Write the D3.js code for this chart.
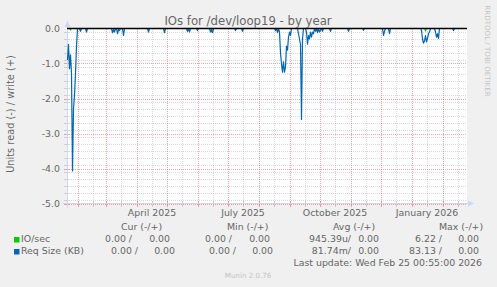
<!DOCTYPE html>
<html>
<head>
<meta charset="utf-8">
<script src="https://cdn.jsdelivr.net/npm/d3@7"></script>
<style>
body { margin: 0; background: #F0F0F0; }
text { font-family: "DejaVu Sans", sans-serif; fill: #666666; }
</style>
</head>
<body>
<div id="container"></div>
<script>
var width = 497;
var height = 287;
var plot = {left: 67, right: 467, top: 28.5, bottom: 203.5};

// time span of the graph (400 days up to last update)
var startDate = new Date(2025, 0, 21);
var endDate = new Date(2026, 1, 25);

var yTicks = [0, -1, -2, -3, -4, -5];
var yTickLabels = ["0.0", "-1.0", "-2.0", "-3.0", "-4.0", "-5.0"];
var xLabelDates = [new Date(2025, 3, 1), new Date(2025, 6, 1), new Date(2025, 9, 1), new Date(2026, 0, 1)];
var xLabels = ["April 2025", "July 2025", "October 2025", "January 2026"];

// Req Size (KB), read side: day since start, value
var reqDays = [0, 1, 2, 3, 4, 5, 6, 7, 8, 9, 10, 12, 13, 14, 18, 19, 20,
    44, 45, 46, 47, 48, 49, 50, 51, 52, 53, 55, 56, 57, 80, 81, 82, 96, 97, 98,
    119, 120, 121, 122, 123, 129, 130, 131, 142, 143, 144, 145, 146, 167, 168, 169,
    174, 175, 176, 207, 208, 209, 210, 211, 212, 213, 214, 215, 216, 217, 218, 219,
    220, 221, 222, 223, 224, 230, 231, 232, 233, 234, 235, 236, 238, 239, 240, 241,
    242, 243, 244, 245, 246, 247, 248, 249, 250, 251, 252, 253, 254, 255, 256,
    262, 263, 264, 280, 281, 282, 295, 296, 297, 315, 316, 317, 318, 321, 322, 323,
    353, 354, 355, 356, 357, 358, 359, 360, 361, 362, 363, 367, 368, 369, 370, 371,
    372, 385, 386, 387, 399];
var reqVals = [-0.9, -0.45, -1.15, -0.75, -1.3, -4.07, -2.3, -1.9, -1.3, -0.5, 0, 0, -0.08, 0, 0, -0.1, 0,
    0, -0.12, -0.03, -0.1, 0, 0, -0.15, -0.03, -0.06, 0, 0, -0.2, 0, 0, -0.1, 0, 0, -0.12, 0,
    0, -0.08, 0, -0.1, 0, 0, -0.06, 0, 0, -0.1, -0.04, -0.12, 0, 0, -0.06, 0,
    0, -0.08, 0, 0, -0.06, 0, -0.12, 0, -0.1, -0.7, -1.0, -1.25, -0.95, -1.25, -1.1, -0.5,
    -0.62, -0.25, -0.1, -0.2, 0, 0, -0.15, -0.3, -0.45, -2.6, -0.3, 0, 0, -0.1, -0.45, -0.2,
    -0.3, -0.1, -0.25, -0.1, -0.15, 0, -0.08, 0, -0.12, 0, -0.1, -0.05, 0, -0.08, 0,
    0, -0.08, 0, 0, -0.08, 0, 0, -0.05, 0, 0, -0.2, -0.08, 0, 0, -0.15, 0,
    0, -0.05, -0.3, -0.42, -0.35, -0.2, -0.38, -0.28, -0.15, -0.1, 0, 0, -0.1, -0.25, -0.15, -0.28,
    0, 0, -0.06, 0, 0];

// IO/sec, read side
var ioDays = [0, 2, 3, 4, 143, 144, 145, 357, 358, 359, 399];
var ioVals = [0, 0, -0.04, 0, 0, -0.05, 0, 0, -0.06, 0, 0];

var legendHeaders = ["Cur (-/+)", "Min (-/+)", "Avg (-/+)", "Max (-/+)"];
var legendNames = ["IO/sec", "Req Size (KB)"];
var legendColors = ["#00CC00", "#0066B3"];
var ioStats = ["0.00 /", "0.00", "0.00 /", "0.00", "945.39u/", "0.00", "6.22 /", "0.00"];
var reqStats = ["0.00 /", "0.00", "0.00 /", "0.00", "81.74m/", "0.00", "83.13 /", "0.00"];

var svg = d3.select('#container').append('svg').attr('width', width).attr('height', height);
svg.append('rect').attr('width', width).attr('height', height).attr('fill', '#F0F0F0');

var xScale = d3.scaleTime().domain([startDate, endDate]).range([plot.left, plot.right]);
var yScale = d3.scaleLinear().domain([-5, 0]).range([plot.bottom, plot.top]);

svg.append('rect')
    .attr('x', plot.left).attr('y', plot.top - 0.5)
    .attr('width', plot.right - plot.left).attr('height', plot.bottom - plot.top + 0.5)
    .attr('fill', '#FFFFFF');

var grid = svg.append('g').attr('shape-rendering', 'crispEdges');

//minor horizontal grid every 0.2, major every 1
var minorY = d3.range(-49, 0, 2).map(function(d){ return d / 10; }).filter(function(d){ return Math.round(d) != d; });
function hLines(values, color, opacity){
    grid.selectAll(null).data(values).enter().append('line')
        .attr('x1', plot.left).attr('x2', plot.right)
        .attr('y1', function(d){ return Math.round(yScale(d)) + 0.5; })
        .attr('y2', function(d){ return Math.round(yScale(d)) + 0.5; })
        .attr('stroke', color).attr('stroke-opacity', opacity)
        .attr('stroke-dasharray', '1,1');
    grid.selectAll(null).data(values).enter().append('line')
        .attr('x1', plot.left - 3).attr('x2', plot.left + 2)
        .attr('y1', function(d){ return Math.round(yScale(d)) + 0.5; })
        .attr('y2', function(d){ return Math.round(yScale(d)) + 0.5; })
        .attr('stroke', color).attr('stroke-opacity', opacity);
}
function vLines(values, color, opacity){
    grid.selectAll(null).data(values).enter().append('line')
        .attr('x1', function(d){ return Math.round(xScale(d)) + 0.5; })
        .attr('x2', function(d){ return Math.round(xScale(d)) + 0.5; })
        .attr('y1', plot.top).attr('y2', plot.bottom)
        .attr('stroke', color).attr('stroke-opacity', opacity)
        .attr('stroke-dasharray', '1,1');
    grid.selectAll(null).data(values).enter().append('line')
        .attr('x1', function(d){ return Math.round(xScale(d)) + 0.5; })
        .attr('x2', function(d){ return Math.round(xScale(d)) + 0.5; })
        .attr('y1', plot.bottom - 3).attr('y2', plot.bottom + 3)
        .attr('stroke', color).attr('stroke-opacity', opacity);
}

var months = d3.timeMonth.range(d3.timeMonth.ceil(startDate), endDate);
var midMonths = d3.timeMonth.range(d3.timeMonth.floor(startDate), endDate)
    .map(function(m){ return d3.timeDay.offset(m, 15); })
    .filter(function(d){ return d > startDate && d < endDate; });

hLines(minorY, '#8F8F8F', 0.35);
vLines(midMonths, '#8F8F8F', 0.35);
hLines(yTicks.slice(1), '#DE4F4F', 0.5);
vLines(months, '#DE4F4F', 0.5);

// axes
var axisColor = '#CFD6F8';
svg.append('line')
    .attr('x1', plot.left + 0.5).attr('x2', plot.left + 0.5)
    .attr('y1', plot.bottom + 4).attr('y2', 25)
    .attr('stroke', axisColor).attr('shape-rendering', 'crispEdges');
svg.append('line')
    .attr('x1', plot.left - 4).attr('x2', plot.right + 2)
    .attr('y1', plot.bottom).attr('y2', plot.bottom)
    .attr('stroke', axisColor).attr('shape-rendering', 'crispEdges');
svg.append('path').attr('d', 'M64.5,27 L67.5,20.5 L70.5,27 Z').attr('fill', axisColor);
svg.append('path').attr('d', 'M468,200.5 L474,203.5 L468,206.5 Z').attr('fill', axisColor);

// y tick labels
svg.selectAll('.ylab').data(yTicks).enter().append('text')
    .attr('class', 'ylab')
    .attr('x', 60)
    .attr('y', function(d){ return yScale(d) + 3.5; })
    .attr('text-anchor', 'end')
    .attr('font-size', '9.4px')
    .text(function(d, i){ return yTickLabels[i]; });

// x labels (centred half a month after the month start)
svg.selectAll('.xlab').data(xLabelDates).enter().append('text')
    .attr('class', 'xlab')
    .attr('x', function(d){ return xScale(d3.timeDay.offset(d, 15)); })
    .attr('y', 216)
    .attr('text-anchor', 'middle')
    .attr('font-size', '9.4px')
    .text(function(d, i){ return xLabels[i]; });

// series
function toPoints(days, vals){
    return days.map(function(d, i){ return {date: d3.timeDay.offset(startDate, d), value: vals[i]}; });
}
var line = d3.line()
    .x(function(d){ return xScale(d.date) + 0.5; })
    .y(function(d){ return yScale(d.value); });

svg.append('path').datum(toPoints(ioDays, ioVals))
    .attr('d', line).attr('fill', 'none')
    .attr('stroke', legendColors[0]).attr('stroke-width', 1.2);

svg.append('path').datum(toPoints(reqDays, reqVals))
    .attr('d', line).attr('fill', 'none')
    .attr('stroke', legendColors[1]).attr('stroke-width', 1.2)
    .attr('stroke-linejoin', 'round');

// zero line on top
svg.append('line')
    .attr('x1', plot.left).attr('x2', plot.right)
    .attr('y1', yScale(0)).attr('y2', yScale(0))
    .attr('stroke', '#000000').attr('stroke-width', 1.3);

// title and side texts
svg.append('text')
    .attr('x', 248).attr('y', 25)
    .attr('text-anchor', 'middle')
    .attr('font-size', '11.7px')
    .text('IOs for /dev/loop19 - by year');

svg.append('text')
    .attr('transform', 'translate(13.5,114) rotate(-90)')
    .attr('text-anchor', 'middle')
    .attr('font-size', '9.8px')
    .text('Units read (-) / write (+)');

svg.append('text')
    .attr('transform', 'translate(485,51) rotate(90)')
    .attr('text-anchor', 'middle')
    .attr('font-size', '7.1px')
    .style('fill', '#C4C4C4')
    .text('RRDTOOL / TOBI OETIKER');

// legend
var headerX = [121, 227, 333, 439];
svg.selectAll('.lhead').data(legendHeaders).enter().append('text')
    .attr('class', 'lhead')
    .attr('x', function(d, i){ return headerX[i]; })
    .attr('y', 229.5)
    .attr('font-size', '9.4px')
    .text(function(d){ return d; });

var rowY = [242, 254];
var statRight = [[132, 170, 232, 270, 351, 379, 442, 479], [138, 175, 236, 273, 351, 379, 442, 479]];
[ioStats, reqStats].forEach(function(stats, r){
    svg.append('rect')
        .attr('x', 14).attr('y', rowY[r] - 5)
        .attr('width', 5.5).attr('height', 5.5)
        .attr('fill', legendColors[r]);
    svg.append('text')
        .attr('x', 21).attr('y', rowY[r])
        .attr('font-size', '9.4px')
        .text(legendNames[r]);
    svg.selectAll(null).data(stats).enter().append('text')
        .attr('x', function(d, i){ return statRight[r][i]; })
        .attr('y', rowY[r])
        .attr('text-anchor', 'end')
        .attr('font-size', '9.4px')
        .text(function(d){ return d; });
});

svg.append('text')
    .attr('x', 482).attr('y', 266)
    .attr('text-anchor', 'end')
    .attr('font-size', '9.4px')
    .text('Last update: Wed Feb 25 00:55:00 2026');

svg.append('text')
    .attr('x', 248).attr('y', 278)
    .attr('text-anchor', 'middle')
    .attr('font-size', '7.1px')
    .style('fill', '#C4C4C4')
    .text('Munin 2.0.76');
</script>
</body>
</html>
